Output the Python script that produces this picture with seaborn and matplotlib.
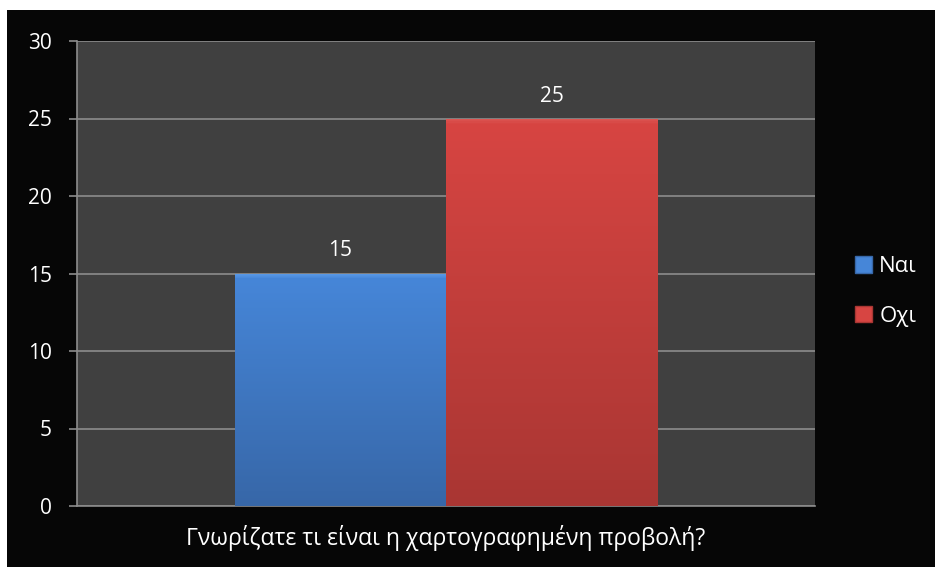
import matplotlib
matplotlib.use("Agg")
import matplotlib.pyplot as plt
import matplotlib.patches as mpatches
from matplotlib.colors import LinearSegmentedColormap
import numpy as np
import pandas as pd
import seaborn as sns

categories = ["Γνωρίζατε τι είναι η χαρτογραφημένη προβολή?"]
series = ["Ναι", "Οχι"]
values = [15, 25]
yticks = [0, 5, 10, 15, 20, 25, 30]

df = pd.DataFrame({"cat": categories * len(series), "series": series, "value": values})

sns.set_theme(style="dark")
plt.rcParams["font.family"] = ["Open Sans", "DejaVu Sans"]

W, H = 935, 567
fig = plt.figure(figsize=(W / 100, H / 100), dpi=100, facecolor="white")
fig.patches.append(mpatches.Rectangle((7 / W, 0), 1 - 7 / W, 1 - 10 / H,
                                      transform=fig.transFigure, facecolor="#060606",
                                      edgecolor="none", zorder=-10))
ax_h_px = 506 - 41
ax = fig.add_axes([77 / W, 1 - 506 / H, (815 - 77) / W, ax_h_px / H])
ax.set_zorder(2)
ax.set_facecolor("#404040")

top_cols = {"Ναι": "#4686d8", "Οχι": "#d74542"}
bot_cols = {"Ναι": "#3767a8", "Οχι": "#a93633"}
hi_cols = {"Ναι": "#5c9ce8", "Οχι": "#dc5652"}
sns.barplot(data=df, x="cat", y="value", hue="series", hue_order=series,
            palette=top_cols, width=0.572, gap=0, dodge=True, ax=ax,
            edgecolor="none", legend=False, zorder=3)

ax.set_ylim(0, 30)
ax.set_xlim(-0.5, 0.5)
px_per_unit = ax_h_px / 30.0

# gradient fill on bars with a light bevel at the top
for patch, s in zip(ax.patches, series):
    x0, y0 = patch.get_x(), patch.get_y()
    w, h = patch.get_width(), patch.get_height()
    f = 1 - 5.0 / (h * px_per_unit)
    cmap = LinearSegmentedColormap.from_list(
        "g", [(0, bot_cols[s]), (f, top_cols[s]), (1, hi_cols[s])])
    grad = np.linspace(0, 1, 1024).reshape(-1, 1)
    im = ax.imshow(grad, cmap=cmap, aspect="auto", origin="lower",
                   extent=(x0, x0 + w, y0, y0 + h), zorder=3.5, interpolation="nearest")
    im.set_clip_path(patch)
    ax.text(x0 + w / 2, y0 + h + 17 / px_per_unit, f"{h:g}", ha="center", va="baseline",
            color="white", fontsize=15, zorder=5)
ax.set_xlim(-0.5, 0.5)
ax.set_ylim(0, 30)

ax.set_yticks(yticks)
ax.set_yticklabels([str(t) for t in yticks])
ax.yaxis.grid(True, color="#8c8c8c", linewidth=1.2, zorder=1)
ax.xaxis.grid(False)
ax.set_axisbelow(True)

ax.set_xticks([0])
ax.set_xticklabels(categories)
ax.set_xticks([-0.5, 0.5], minor=True)
ax.tick_params(axis="x", which="major", length=0, pad=14, labelcolor="white", labelsize=16.5)
ax.tick_params(axis="x", which="minor", length=7, width=1.2, color="#8c8c8c", direction="out")
ax.tick_params(axis="y", length=6, width=1.2, color="#8c8c8c", direction="out", pad=12,
               labelcolor="white", labelsize=15, left=True)
ax.set_xlabel("")
ax.set_ylabel("")

for side in ["top", "right"]:
    ax.spines[side].set_visible(False)
for side in ["left", "bottom"]:
    ax.spines[side].set_visible(True)
    ax.spines[side].set_color("#8c8c8c")
    ax.spines[side].set_linewidth(1.2)

handles = [mpatches.Patch(facecolor=top_cols[s], edgecolor=bot_cols[s], label=s) for s in series]
leg = fig.legend(handles=handles, loc="upper left", bbox_to_anchor=(855 / W, 1 - 256 / H),
                 frameon=False, labelcolor="white", fontsize=16, handlelength=0.77,
                 handleheight=0.77, handletextpad=0.32, labelspacing=1.3, borderpad=0,
                 borderaxespad=0)

fig.savefig("out.png", dpi=100, facecolor=fig.get_facecolor())
